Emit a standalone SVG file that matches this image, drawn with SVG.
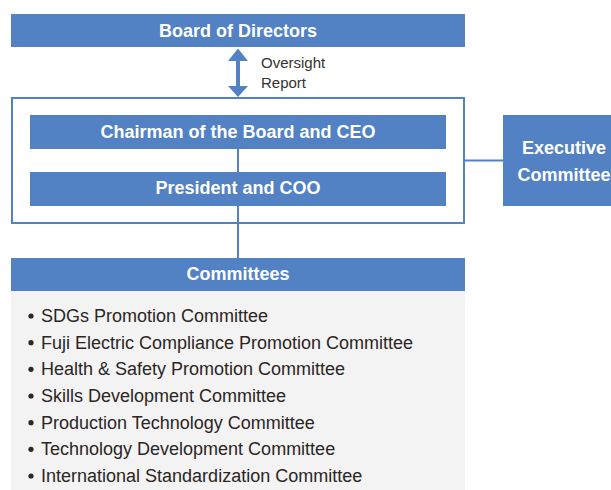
<svg xmlns="http://www.w3.org/2000/svg" width="611" height="490" viewBox="0 0 611 490">
  <style>
    .box { fill: #5282c4; }
    .frame { fill: none; stroke: #5282c4; stroke-width: 2; }
    .link { fill: none; stroke: #5282c4; stroke-width: 2; }
    .title { font-family: "Liberation Sans", Arial, sans-serif; font-size: 18px; font-weight: bold; fill: #ffffff; text-anchor: middle; }
    .note { font-family: "Liberation Sans", Arial, sans-serif; font-size: 15px; fill: #333333; }
    .item { font-family: "Liberation Sans", Arial, sans-serif; font-size: 18px; fill: #2b2523; }
    .dot { fill: #2b2523; }
  </style>
  <defs>
    <marker id="head" viewBox="0 0 20 12" refX="10" refY="0" markerWidth="20" markerHeight="12" markerUnits="userSpaceOnUse" orient="auto-start-reverse">
      <path d="M0,12 L10,0 L20,12 Z" fill="#5282c4"/>
    </marker>
  </defs>

  <!-- connectors -->
  <g id="connectors">
    <line class="link" x1="238" y1="149" x2="238" y2="172"/>
    <line class="link" x1="238" y1="206" x2="238" y2="258"/>
    <line class="link" x1="465" y1="160.5" x2="503" y2="160.5"/>
    <path d="M238,60 L238,87" stroke="#5282c4" stroke-width="4" fill="none"/>
    <path d="M228,61 L238,48.5 L248,61 Z" fill="#5282c4"/>
    <path d="M228,86 L238,97 L248,86 Z" fill="#5282c4"/>
    <text class="note" x="261" y="68">Oversight</text>
    <text class="note" x="261" y="88">Report</text>
  </g>

  <g id="board">
    <rect class="box" x="11" y="14" width="454" height="33"/>
    <text class="title" x="238" y="37">Board of Directors</text>
  </g>

  <g id="management">
    <rect class="frame" x="12" y="98" width="452" height="125"/>
  </g>

  <g id="chairman">
    <rect class="box" x="30" y="115" width="416" height="34"/>
    <text class="title" x="238" y="138">Chairman of the Board and CEO</text>
  </g>

  <g id="president">
    <rect class="box" x="30" y="172" width="416" height="34"/>
    <text class="title" x="238" y="194">President and COO</text>
  </g>

  <g id="executive">
    <rect class="box" x="503" y="115" width="122" height="91"/>
    <text class="title" x="564" y="154">Executive</text>
    <text class="title" x="564" y="181">Committee</text>
  </g>

  <g id="committees">
    <rect class="box" x="11" y="258" width="454" height="33"/>
    <text class="title" x="238" y="280">Committees</text>
    <rect x="11" y="291" width="454" height="199" fill="#f3f3f3"/>
    <g>
      <circle class="dot" cx="31" cy="316" r="2.6"/>
      <text class="item" x="41" y="322">SDGs Promotion Committee</text>
      <circle class="dot" cx="31" cy="342.7" r="2.6"/>
      <text class="item" x="41" y="348.7">Fuji Electric Compliance Promotion Committee</text>
      <circle class="dot" cx="31" cy="369.3" r="2.6"/>
      <text class="item" x="41" y="375.3">Health &amp; Safety Promotion Committee</text>
      <circle class="dot" cx="31" cy="396" r="2.6"/>
      <text class="item" x="41" y="402">Skills Development Committee</text>
      <circle class="dot" cx="31" cy="422.7" r="2.6"/>
      <text class="item" x="41" y="428.7">Production Technology Committee</text>
      <circle class="dot" cx="31" cy="449.3" r="2.6"/>
      <text class="item" x="41" y="455.3">Technology Development Committee</text>
      <circle class="dot" cx="31" cy="476" r="2.6"/>
      <text class="item" x="41" y="482">International Standardization Committee</text>
    </g>
  </g>
</svg>
